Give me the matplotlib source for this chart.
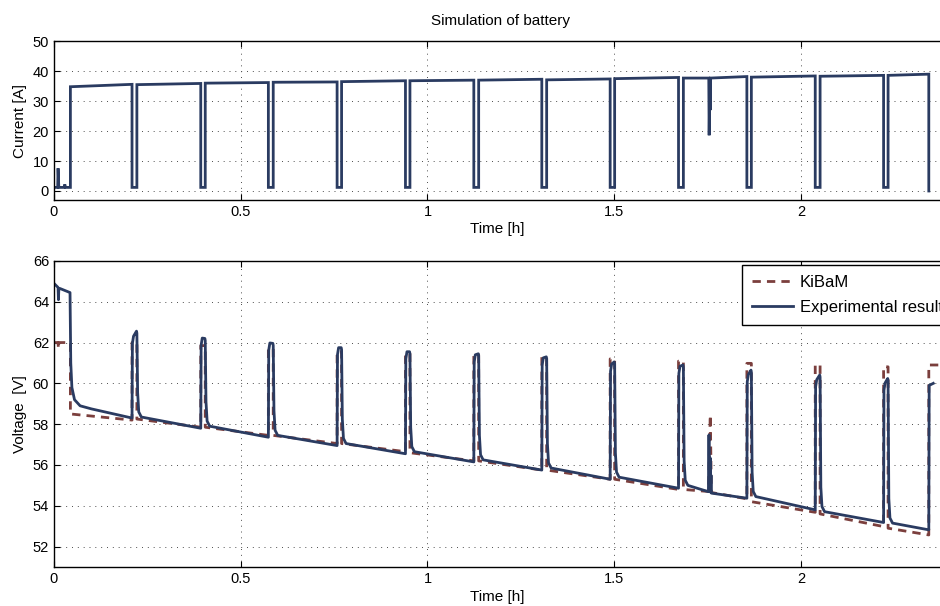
import matplotlib
matplotlib.use("Agg")
import matplotlib.pyplot as plt

plt.rcParams['font.family'] = ['Liberation Sans', 'DejaVu Sans']

# ---- data ----
# rest periods (low current) between discharge pulses [h]
rest_start = [0.209, 0.393, 0.574, 0.758, 0.941, 1.124, 1.306, 1.489, 1.672, 1.855, 2.038, 2.221, 2.342]
rest_end = [0.222, 0.405, 0.587, 0.770, 0.953, 1.137, 1.319, 1.501, 1.685, 1.867, 2.051, 2.233]

# current [A]
i_rest = 1.2
i_seg_start = [34.8, 35.5, 36.0, 36.3, 36.5, 36.8, 37.0, 37.1, 37.5, 37.7, 38.0, 38.3, 38.6]
i_seg_end = [35.6, 35.9, 36.2, 36.4, 36.8, 37.0, 37.3, 37.4, 37.9, 38.2, 38.4, 38.6, 39.0]
i_init_t = [0.0, 0.010, 0.011, 0.013, 0.027, 0.029, 0.031, 0.044]
i_init = [1.2, 1.2, 7.6, 1.2, 1.2, 2.2, 1.2, 1.2]
i_spike_t = [1.753, 1.754, 1.756, 1.757, 1.758]
i_spike = [37.7, 18.6, 37.7, 27.0, 37.7]

# experimental voltage [V]
v_init_t = [0.0, 0.011, 0.012, 0.013, 0.016, 0.043, 0.045, 0.048, 0.055, 0.07, 0.10]
v_init = [64.9, 64.7, 64.1, 64.6, 64.65, 64.45, 61.0, 59.8, 59.2, 58.9, 58.75]
v_seg_end = [58.3, 57.8, 57.36, 56.95, 56.55, 56.15, 55.75, 55.3, 54.86, 54.37, 53.8, 53.18, 52.82]
v_knee = [58.35, 57.9, 57.45, 57.05, 56.65, 56.25, 55.85, 55.4, 55.0, 54.45, 53.71, 53.15]
v_rest_lo = [61.96, 61.87, 61.63, 61.4, 61.2, 61.05, 60.9, 60.6, 60.49, 60.08, 59.83, 59.67, 59.9]
v_rest_hi = [62.56, 62.2, 61.96, 61.75, 61.55, 61.45, 61.3, 61.05, 60.9, 60.65, 60.41, 60.24, 60.0]
v_spike_t = [1.752, 1.7535, 1.755, 1.757, 1.758, 1.759, 1.760]
v_spike = [54.69, 57.47, 54.7, 56.34, 54.66, 55.5, 54.62]

# KiBaM model voltage [V]
k_init_t = [0.0, 0.011, 0.012, 0.013, 0.044]
k_init = [62.0, 62.0, 61.7, 62.0, 62.0]
k_seg_start = [58.5, 58.25, 57.85, 57.45, 57.05, 56.6, 56.2, 55.75, 55.3, 54.8, 54.2, 53.6, 52.9]
k_seg_end = [58.2, 57.85, 57.45, 57.05, 56.65, 56.2, 55.75, 55.3, 54.8, 54.34, 53.68, 52.98, 52.57]
k_rest = [62.0, 61.85, 61.7, 61.55, 61.45, 61.4, 61.3, 61.2, 61.09, 60.98, 60.9, 60.81, 60.9]
k_spike_t = [1.752, 1.757, 1.760]
k_spike = [54.7, 58.45, 54.65]
t_max = 2.372

# ---- build polylines ----
n = len(rest_start)

# current
it, iv = list(i_init_t), list(i_init)
for k in range(n):
    t0 = 0.044 if k == 0 else rest_end[k - 1]
    it += [t0, t0]
    iv += [i_rest, i_seg_start[k]]
    if k == 9:
        it += i_spike_t
        iv += i_spike
    it += [rest_start[k]]
    iv += [i_seg_end[k]]
    if k < n - 1:
        it += [rest_start[k], rest_end[k]]
        iv += [i_rest, i_rest]
    else:
        it += [rest_start[k]]
        iv += [0.0]

# experimental voltage
vt, vv = list(v_init_t), list(v_init)
for k in range(n):
    if k > 0:
        re = rest_end[k - 1]
        vt += [re + 0.002, re + 0.005, re + 0.012]
        vv += [v_knee[k - 1] + 1.2, v_knee[k - 1] + 0.25, v_knee[k - 1]]
    if k == 9:
        vt += v_spike_t
        vv += v_spike
    vt += [rest_start[k], rest_start[k] + 0.001]
    vv += [v_seg_end[k], v_rest_lo[k]]
    if k < n - 1:
        vt += [rest_start[k] + 0.004, rest_end[k] - 0.001, rest_end[k]]
        vv += [v_rest_lo[k] + 0.35, v_rest_hi[k], v_rest_hi[k] - 0.1]
    else:
        vt += [rest_start[k] + 0.012]
        vv += [v_rest_hi[k]]

# KiBaM voltage
kt, kv = list(k_init_t), list(k_init)
for k in range(n):
    t0 = 0.044 if k == 0 else rest_end[k - 1]
    kt += [t0]
    kv += [k_seg_start[k]]
    if k == 9:
        kt += k_spike_t
        kv += k_spike
    kt += [rest_start[k], rest_start[k]]
    kv += [k_seg_end[k], k_rest[k]]
    kt += [rest_end[k] if k < n - 1 else t_max]
    kv += [k_rest[k]]

# ---- plot ----
navy = '#2a3b61'
brown = '#7b3f3d'

fig = plt.figure(figsize=(9.4, 6.06), dpi=100)
# axes stop at the right edge of the picture; the reference is cropped there
ax1 = fig.add_axes([0.0574, 0.670, 0.9426, 0.262])
ax2 = fig.add_axes([0.0574, 0.0644, 0.9426, 0.505])

ax1.plot(it, iv, color=navy, lw=2.0, solid_joinstyle='miter')
ax1.set_xlim(0, t_max)
ax1.set_ylim(-3, 50)
ax1.set_yticks([0, 10, 20, 30, 40, 50])
ax1.set_xticks([0, 0.5, 1, 1.5, 2])
ax1.set_xticklabels(['0', '0.5', '1', '1.5', '2'])
ax1.set_ylabel('Current [A]', fontsize=11)
ax1.set_xlabel('Time [h]', fontsize=11)
ax1.xaxis.set_label_coords(0.5, -0.14)
fig.text(0.532, 0.966, 'Simulation of battery', fontsize=11, ha='center', va='center')

ax2.plot(kt, kv, color=brown, lw=2.0, dashes=(3, 2.2), label='KiBaM')
ax2.plot(vt, vv, color=navy, lw=2.0, label='Experimental result')
ax2.set_xlim(0, t_max)
ax2.set_ylim(51, 66)
ax2.set_yticks([52, 54, 56, 58, 60, 62, 64, 66])
ax2.set_xticks([0, 0.5, 1, 1.5, 2])
ax2.set_xticklabels(['0', '0.5', '1', '1.5', '2'])
ax2.set_ylabel('Voltage  [V]', fontsize=11)
ax2.set_xlabel('Time [h]', fontsize=11)
ax2.xaxis.set_label_coords(0.5, -0.075)
leg = ax2.legend(loc='upper left', bbox_to_anchor=(0.7762, 0.987), borderaxespad=0,
                 fancybox=False, edgecolor='black', fontsize=12, handlelength=2.5,
                 handletextpad=0.4, borderpad=0.6, labelspacing=0.6, framealpha=1)
leg.get_frame().set_linewidth(1.0)

for ax in (ax1, ax2):
    ax.grid(True, linestyle=(0, (1, 5)), color='0.3', linewidth=0.7)
    ax.tick_params(direction='in', length=4, top=True, right=False, labelsize=10.5, width=0.8)
    ax.spines['right'].set_visible(False)
    for s in ax.spines.values():
        s.set_linewidth(1.0)

fig.savefig('out.png', dpi=100)
